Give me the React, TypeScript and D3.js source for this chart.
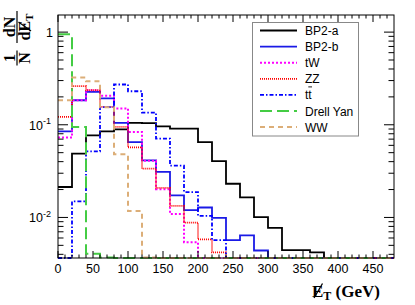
import * as d3 from "d3";

// 20 GeV bins, 0 - 480 GeV
const BIN_EDGES = d3.range(0, 481, 20);

// normalised MET distributions
const BP2A = [0.0213, 0.0488, 0.077, 0.085, 0.089, 0.105, 0.104, 0.096, 0.091, 0.091, 0.065, 0.0406, 0.0231, 0.0165, 0.0101, 0.0077, 0.00445, 0.00445, 0.0042, 0, 0, 0, 0, 0];
const BP2B = [0.085, 0.184, 0.227, 0.193, 0.105, 0.065, 0.0413, 0.031, 0.0173, 0.012, 0.0128, 0.0099, 0.0057, 0.0064, 0.0044, 0, 0, 0, 0, 0, 0, 0, 0, 0];
const TW = [0.0727, 0.184, 0.236, 0.206, 0.15, 0.0836, 0.0408, 0.0201, 0.0109, 0.0054, 0, 0, 0, 0, 0, 0, 0, 0, 0, 0, 0, 0, 0, 0];
const ZZ = [0.1215, 0.261, 0.236, 0.156, 0.095, 0.057, 0.0336, 0.0208, 0.0133, 0.0088, 0.0058, 0.0042, 0, 0, 0, 0, 0, 0, 0, 0, 0, 0, 0, 0];
const TTBAR = [0, 0.0149, 0.0517, 0.155, 0.272, 0.23, 0.135, 0.071, 0.0362, 0.0188, 0.0104, 0.0057, 0, 0, 0, 0, 0, 0, 0, 0, 0, 0, 0, 0];
const DRELL_YAN = [0.951, 0.0947, 0.00405, 0.0037, 0, 0, 0, 0, 0, 0, 0, 0, 0, 0, 0, 0, 0, 0, 0, 0, 0, 0, 0, 0];
const WW = [0.184, 0.324, 0.295, 0.155, 0.048, 0.0117, 0.0037, 0, 0, 0, 0, 0, 0, 0, 0, 0, 0, 0, 0, 0, 0, 0, 0, 0];

const X_TICKS = [0, 50, 100, 150, 200, 250, 300, 350, 400, 450];
const Y_MAJOR = [1, 0.1, 0.01];
const Y_LABELS = ["1", "10|-1", "10|-2"];

const series = [
  { name: "BP2-a", values: BP2A, color: "#000000", dash: "none", width: 1.8 },
  { name: "BP2-b", values: BP2B, color: "#1a1ae6", dash: "none", width: 1.8 },
  { name: "tW", values: TW, color: "#ff00ff", dash: "2,2", width: 2 },
  { name: "ZZ", values: ZZ, color: "#ff0000", dash: "1,1", width: 1.8 },
  { name: "tt", values: TTBAR, color: "#0000ff", dash: "4,2,1.5,2", width: 1.8 },
  { name: "Drell Yan", values: DRELL_YAN, color: "#44cc44", dash: "12,5", width: 2 },
  { name: "WW", values: WW, color: "#dcae78", dash: "5,4", width: 2 },
];

const W = 415, H = 305;
const L = 58, R = 394, T = 15, B = 258;
const YMIN = 0.00365, YMAX = 1.53;

export default function App() {
  const x = d3.scaleLinear().domain([0, 480]).range([L, R]);
  const y = d3.scaleLog().domain([YMIN, YMAX]).range([B, T]);

  const line = d3.line<[number, number]>()
    .x(d => x(d[0]))
    .y(d => y(Math.max(YMIN, d[1])))
    .curve(d3.curveStepAfter);

  const histPath = (vals: number[]) => {
    const pts: [number, number][] = vals.map((v, i) => [BIN_EDGES[i], v]);
    pts.push([BIN_EDGES[vals.length], vals[vals.length - 1]]);
    return line(pts) || "";
  };

  const xMinor = d3.range(0, 480, 10).filter(v => v % 50 !== 0);
  const yMinor: number[] = [];
  for (let n = -3; n <= 0; n++) {
    for (let k = 2; k <= 9; k++) {
      const v = k * Math.pow(10, n);
      if (v > YMIN && v < YMAX) yMinor.push(v);
    }
  }

  const legX0 = 252.5, legY0 = 22.5, legW = 106, legH = 113.5;
  const rowY = (i: number) => 30.5 + i * 16.1;

  return (
    <svg width={W} height={H} style={{ position: "absolute", left: 0, top: 0, background: "#fff" }}
      fontFamily="'Liberation Sans', Arial, sans-serif">
      <defs>
        <clipPath id="frame">
          <rect x={L} y={T} width={R - L} height={B - T + 1} />
        </clipPath>
      </defs>

      <g clipPath="url(#frame)" fill="none">
        {series.map(s => (
          <path key={s.name} d={histPath(s.values)} stroke={s.color}
            strokeWidth={s.width} strokeDasharray={s.dash} />
        ))}
      </g>

      {/* frame */}
      <rect x={L} y={T} width={R - L} height={B - T} fill="none" stroke="#000" strokeWidth={1} />

      {/* ticks on all four sides */}
      <g stroke="#000" strokeWidth={1}>
        {X_TICKS.map(v => (
          <g key={"xm" + v}>
            <line x1={x(v)} x2={x(v)} y1={B} y2={B - 7} />
            <line x1={x(v)} x2={x(v)} y1={T} y2={T + 7} />
          </g>
        ))}
        {xMinor.map(v => (
          <g key={"xn" + v}>
            <line x1={x(v)} x2={x(v)} y1={B} y2={B - 3.5} />
            <line x1={x(v)} x2={x(v)} y1={T} y2={T + 3.5} />
          </g>
        ))}
        {Y_MAJOR.map(v => (
          <g key={"ym" + v}>
            <line x1={L} x2={L + 10} y1={y(v)} y2={y(v)} />
            <line x1={R} x2={R - 10} y1={y(v)} y2={y(v)} />
          </g>
        ))}
        {yMinor.map(v => (
          <g key={"yn" + v}>
            <line x1={L} x2={L + 5.5} y1={y(v)} y2={y(v)} />
            <line x1={R} x2={R - 5.5} y1={y(v)} y2={y(v)} />
          </g>
        ))}
      </g>

      {/* tick labels */}
      <g fontSize={12.5} fill="#000">
        {X_TICKS.map(v => (
          <text key={"xl" + v} x={x(v)} y={273} textAnchor="middle">{v}</text>
        ))}
        {Y_MAJOR.map((v, i) => {
          const [base, exp] = Y_LABELS[i].split("|");
          return exp ? (
            <text key={"yl" + v} x={51} y={y(v) + 5} textAnchor="end">
              {base}<tspan fontSize={9} dy={-5.5}>{exp}</tspan>
            </text>
          ) : (
            <text key={"yl" + v} x={53} y={y(v) + 5} textAnchor="end">{base}</text>
          );
        })}
      </g>

      {/* x title */}
      <g fontFamily="'Liberation Serif', 'Times New Roman', serif" fontWeight="bold">
        <text x={312} y={296.5} fontSize={17}>
          E<tspan fontSize={12} dy={3}>T</tspan><tspan dy={-3}> (GeV)</tspan>
        </text>
        <line x1={314} y1={298} x2={322.5} y2={283.5} stroke="#000" strokeWidth={1.3} />
      </g>

      {/* y title, rotated */}
      <g transform="translate(17,0) rotate(-90)" fontFamily="'Liberation Serif', 'Times New Roman', serif"
        fontWeight="bold" fontSize={16}>
        <text x={-58} y={-2} textAnchor="middle">1</text>
        <line x1={-65.5} x2={-50.5} y1={0} y2={0} stroke="#000" strokeWidth={1.2} />
        <text x={-58} y={12.6} textAnchor="middle">N</text>
        <text x={-27} y={-2} textAnchor="middle">dN</text>
        <line x1={-43} x2={-11} y1={0} y2={0} stroke="#000" strokeWidth={1.2} />
        <text x={-40.5} y={12.6}>dE<tspan fontSize={11} dy={3}>T</tspan></text>
        <line x1={-31} y1={14} x2={-22} y2={1.5} stroke="#000" strokeWidth={1.2} />
      </g>

      {/* legend */}
      <rect x={legX0} y={legY0} width={legW} height={legH} fill="#fff" stroke="#888" strokeWidth={1} />
      {series.map((s, i) => (
        <g key={"leg" + s.name}>
          <line x1={260} x2={297} y1={rowY(i)} y2={rowY(i)} stroke={s.color}
            strokeWidth={s.width} strokeDasharray={s.dash} />
          <text x={305} y={rowY(i) + 4.5} fontSize={12} fill="#000">{s.name}</text>
          {s.name === "tt" && (
            <line x1={308.3} x2={312} y1={rowY(i) - 8} y2={rowY(i) - 8} stroke="#000" strokeWidth={0.9} />
          )}
        </g>
      ))}
    </svg>
  );
}
